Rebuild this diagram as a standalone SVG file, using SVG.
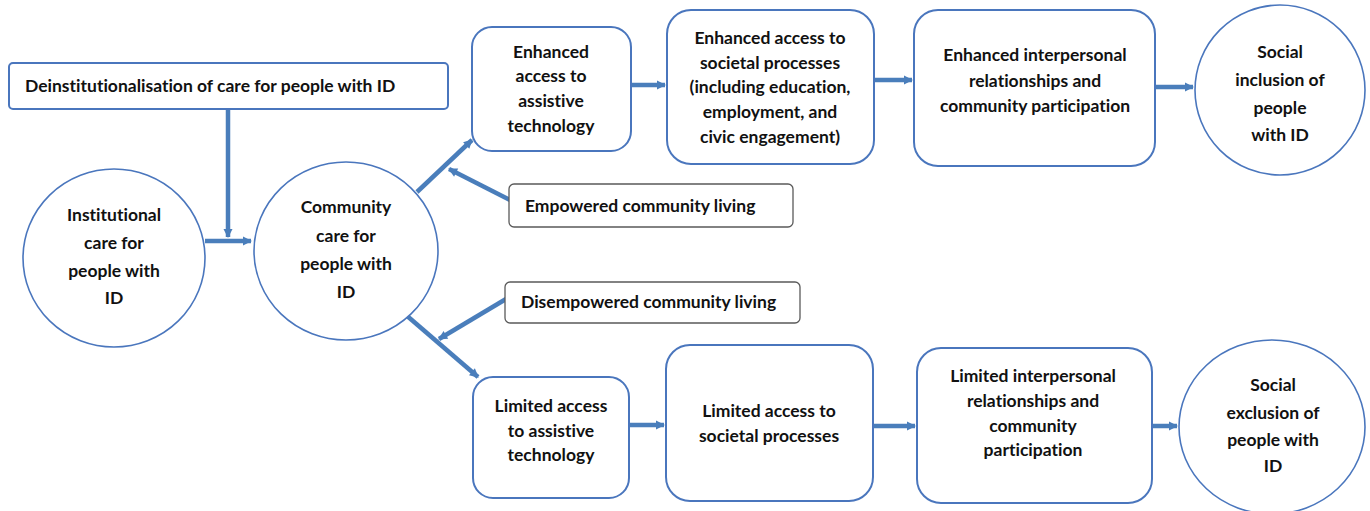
<svg xmlns="http://www.w3.org/2000/svg" width="1370" height="511" viewBox="0 0 1370 511">
<style>
.bx{fill:#fff;stroke:#4a76bd;stroke-width:2}
.gb{fill:#fff;stroke:#5a5a5a;stroke-width:1.3}
.ci{fill:#fff;stroke:#4a76bd;stroke-width:1.6}
.t{font-family:Lato,"Liberation Sans",sans-serif;font-weight:bold;font-size:17.5px;fill:#111;font-variant-ligatures:none;font-feature-settings:"liga" 0,"dlig" 0}
.c{text-anchor:middle}
.cn{stroke:#4a7ebb;stroke-width:4.5;fill:none}
</style>
<defs>
<marker id="ah" markerUnits="userSpaceOnUse" markerWidth="12" markerHeight="12" refX="9" refY="6" orient="auto">
<path d="M1,1.5 L10,6 L1,10.5 Z" fill="#4a7ebb"/>
</marker>
</defs>
<g id="connectors">
<line class="cn" x1="228" y1="109" x2="228" y2="237" marker-end="url(#ah)"/>
<line class="cn" x1="205" y1="241" x2="251" y2="241" marker-end="url(#ah)"/>
<line class="cn" x1="417" y1="192" x2="472" y2="140" marker-end="url(#ah)"/>
<line class="cn" x1="510" y1="200" x2="449" y2="169" marker-end="url(#ah)"/>
<line class="cn" x1="406" y1="315" x2="478" y2="377" marker-end="url(#ah)"/>
<line class="cn" x1="506" y1="299" x2="439" y2="339" marker-end="url(#ah)"/>
<line class="cn" x1="631" y1="85" x2="665" y2="85" marker-end="url(#ah)"/>
<line class="cn" x1="874" y1="80" x2="912" y2="80" marker-end="url(#ah)"/>
<line class="cn" x1="1155" y1="87" x2="1193" y2="87" marker-end="url(#ah)"/>
<line class="cn" x1="629" y1="425" x2="664" y2="425" marker-end="url(#ah)"/>
<line class="cn" x1="873" y1="426" x2="915" y2="426" marker-end="url(#ah)"/>
<line class="cn" x1="1152" y1="426" x2="1177" y2="426" marker-end="url(#ah)"/>
</g>
<g id="deinst">
<rect class="bx" x="9" y="63" width="439" height="46" rx="4"/>
<text class="t" x="25" y="92">Deinstitutionalisation of care for people with ID</text>
</g>
<g id="institutional">
<ellipse class="ci" cx="114" cy="258" rx="91" ry="89"/>
<text class="t c" x="114" y="221">Institutional</text>
<text class="t c" x="114" y="249">care for</text>
<text class="t c" x="114" y="277">people with</text>
<text class="t c" x="114" y="304">ID</text>
</g>
<g id="community">
<ellipse class="ci" cx="346" cy="251" rx="92" ry="89"/>
<text class="t c" x="346" y="213">Community</text>
<text class="t c" x="346" y="242">care for</text>
<text class="t c" x="346" y="270">people with</text>
<text class="t c" x="346" y="298">ID</text>
</g>
<g id="enh-at">
<rect class="bx" x="472" y="27" width="159" height="124" rx="20"/>
<text class="t c" x="551" y="58">Enhanced</text>
<text class="t c" x="551" y="82">access to</text>
<text class="t c" x="551" y="107">assistive</text>
<text class="t c" x="551" y="132">technology</text>
</g>
<g id="enh-sp">
<rect class="bx" x="667" y="10" width="207" height="154" rx="24"/>
<text class="t c" x="770" y="44">Enhanced access to</text>
<text class="t c" x="770" y="69">societal processes</text>
<text class="t c" x="770" y="93">(including education,</text>
<text class="t c" x="770" y="118">employment, and</text>
<text class="t c" x="770" y="143">civic engagement)</text>
</g>
<g id="enh-ir">
<rect class="bx" x="914" y="10" width="241" height="156" rx="24"/>
<text class="t c" x="1035" y="61">Enhanced interpersonal</text>
<text class="t c" x="1035" y="87">relationships and</text>
<text class="t c" x="1035" y="112">community participation</text>
</g>
<g id="inclusion">
<ellipse class="ci" cx="1280" cy="90" rx="85" ry="85"/>
<text class="t c" x="1280" y="58">Social</text>
<text class="t c" x="1280" y="86">inclusion of</text>
<text class="t c" x="1280" y="114">people</text>
<text class="t c" x="1280" y="141">with ID</text>
</g>
<g id="empowered">
<rect class="gb" x="509" y="184" width="284" height="43" rx="5"/>
<text class="t" x="525" y="212">Empowered community living</text>
</g>
<g id="disempowered">
<rect class="gb" x="505" y="282" width="295" height="41" rx="5"/>
<text class="t" x="521" y="308">Disempowered community living</text>
</g>
<g id="lim-at">
<rect class="bx" x="473" y="377" width="156" height="121" rx="20"/>
<text class="t c" x="551" y="412">Limited access</text>
<text class="t c" x="551" y="437">to assistive</text>
<text class="t c" x="551" y="461">technology</text>
</g>
<g id="lim-sp">
<rect class="bx" x="666" y="345" width="207" height="156" rx="24"/>
<text class="t c" x="769" y="417">Limited access to</text>
<text class="t c" x="769" y="442">societal processes</text>
</g>
<g id="lim-ir">
<rect class="bx" x="917" y="348" width="235" height="155" rx="24"/>
<text class="t c" x="1033" y="382">Limited interpersonal</text>
<text class="t c" x="1033" y="407">relationships and</text>
<text class="t c" x="1033" y="432">community</text>
<text class="t c" x="1033" y="456">participation</text>
</g>
<g id="exclusion">
<ellipse class="ci" cx="1272" cy="427" rx="93" ry="87"/>
<text class="t c" x="1273" y="391">Social</text>
<text class="t c" x="1273" y="419">exclusion of</text>
<text class="t c" x="1273" y="446">people with</text>
<text class="t c" x="1273" y="472">ID</text>
</g>
</svg>
